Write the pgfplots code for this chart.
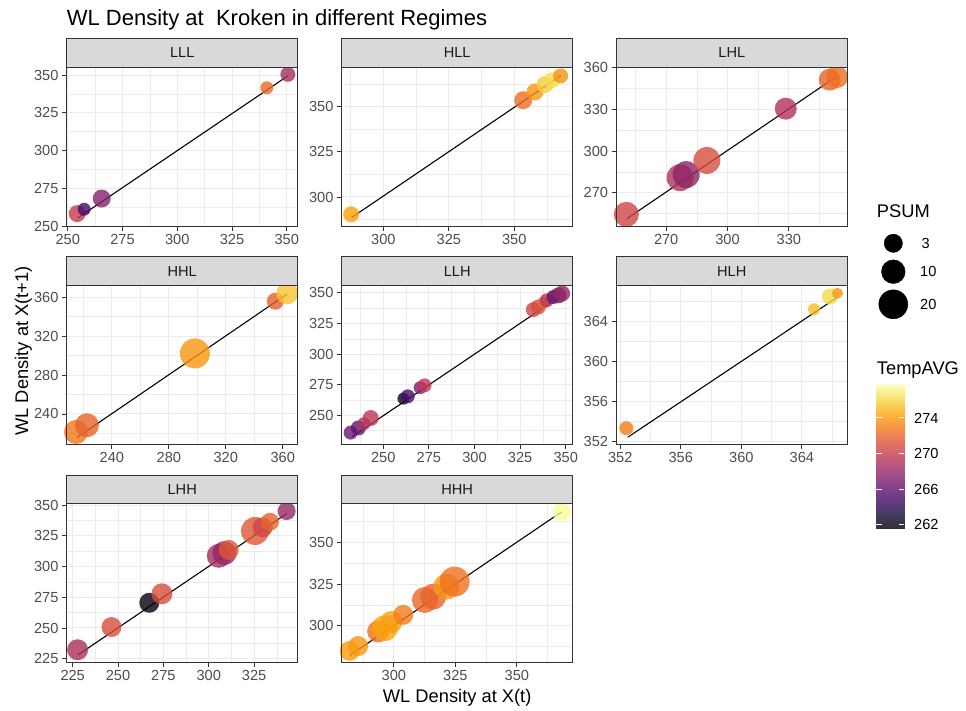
\documentclass[border=0pt]{standalone}
\usepackage{fontspec}
\setmainfont{Liberation Sans}
\usepackage{pgfplots}
\pgfplotsset{compat=1.18}
\usepackage{pgfplotstable}

\definecolor{grey10}{RGB}{26,26,26}
\definecolor{grey20}{RGB}{51,51,51}
\definecolor{grey30}{RGB}{77,77,77}
\definecolor{grey85}{RGB}{217,217,217}
\definecolor{grey92}{RGB}{235,235,235}

% columns: x = density at X(t), y = density at X(t+1), t = TempAVG, d = marker diameter (from PSUM)
\pgfplotstableread{
x y t d
254.3 258.2 270.0 17
257.5 261.1 265.0 13
265.5 268.2 267.5 18
340.9 341.6 272.3 13
350.5 350.5 268.8 15
}\LLL
\pgfplotstableread{
x y t d
287.7 290.4 274.3 16
353.4 353.7 272.5 18
357.9 358.3 274.0 17
361.7 362.4 275.8 17
364.3 364.8 276.3 16
367.7 367.2 273.8 15
}\HLL
\pgfplotstableread{
x y t d
250.5 254.4 270.5 25
276.8 280.8 269.2 27
279.8 283.0 267.8 27
289.9 293.2 271.0 27
328.5 330.5 269.3 22
350.0 351.4 272.0 22
353.6 353.3 272.5 22
}\LHL
\pgfplotstableread{
x y t d
214.8 221.5 272.8 24
222.5 228.4 272.0 24
298.3 302.3 274.0 30
354.8 355.9 271.8 17
363.2 364.1 275.5 22
}\HHL
\pgfplotstableread{
x y t d
232.1 235.9 266.5 14
236.3 239.6 266.0 15
239.4 243.2 269.2 13
243.1 247.8 269.6 16
261.0 263.6 262.5 12
263.4 265.5 265.2 14
270.2 272.6 267.0 13
272.6 274.5 269.8 14
332.2 336.4 270.5 15
335.0 338.6 271.0 15
337.7 341.9 272.2 12
339.6 344.0 269.5 14
343.2 346.7 266.0 14
346.0 348.0 267.0 16
348.0 349.5 268.0 16
}\LLH
\pgfplotstableread{
x y t d
352.4 353.3 273.0 14
364.8 365.2 275.2 12
365.85 366.46 276.2 16
366.35 366.8 274.0 11
}\HLH
\pgfplotstableread{
x y t d
227.7 232.3 269.0 21
246.4 250.8 271.0 20
267.2 270.5 261.8 20
274.2 277.8 271.0 21
305.5 308.7 268.8 24
308.6 310.9 268.0 24
311.0 313.5 271.5 20
325.5 328.9 271.5 28
329.7 331.9 270.5 20
333.7 336.4 272.0 18
342.9 345.1 268.2 18
}\LHH
\pgfplotstableread{
x y t d
282.0 285.0 274.2 20
285.5 287.9 274.0 20
293.6 296.6 272.5 22
296.3 298.6 274.5 26
299.0 302.3 274.2 22
303.8 306.6 273.0 20
312.6 315.5 272.2 26
316.0 317.5 272.0 26
321.4 323.5 274.0 26
324.7 326.5 272.6 30
368.2 368.2 277.6 18
}\HHH

\pgfplotsset{
  colormap={inferno}{rgb255=(0,0,4) rgb255=(22,11,57) rgb255=(66,10,104)
    rgb255=(106,23,110) rgb255=(147,38,103) rgb255=(188,55,84) rgb255=(221,81,58)
    rgb255=(243,120,25) rgb255=(252,165,10) rgb255=(246,215,70) rgb255=(252,255,164)},
  % the same scale seen through 80% opacity on white
  colormap={infernofaded}{rgb255=(51,51,54) rgb255=(69,60,97) rgb255=(104,59,134)
    rgb255=(136,69,139) rgb255=(169,81,133) rgb255=(201,95,118) rgb255=(228,116,97)
    rgb255=(245,147,71) rgb255=(253,183,59) rgb255=(248,223,107) rgb255=(253,255,182)},
  facet/.style={
    scale only axis, width=231pt, height=158.6pt, anchor=north west,
    axis line style={draw=none},
    tick align=outside, xtick pos=left, ytick pos=left,
    major tick length=4.5pt, minor tick length=0pt,
    tick style={grey20, line width=0.9pt},
    grid=both,
    major grid style={grey92, line width=1.0pt},
    minor grid style={grey92, line width=0.5pt},
    ticklabel style={font=\fontsize{14.6}{16}\selectfont, text=grey30},
    xticklabel style={inner sep=0pt, yshift=-3.6pt},
    yticklabel style={inner sep=0pt, xshift=-3.6pt},
    /pgf/number format/assume math mode=true,
    every axis title/.style={at={(0.5,1)}, anchor=south, fill=grey85, draw=grey20,
      line width=0.9pt, minimum width=231pt, minimum height=28.3pt, inner sep=0pt,
      text=grey10, font=\fontsize{14.6}{16}\selectfont},
    point meta min=261.6, point meta max=277.7,
    colormap name=inferno,
    clip=true,
  },
  pts/.style={scatter, only marks, mark=*, point meta=\thisrow{t},
    scatter/use mapped color={draw opacity=0, fill=mapped color, fill opacity=0.8},
    visualization depends on={0.5*\thisrow{d} \as \rad},
    scatter/@pre marker code/.append style={/tikz/mark size=\rad}},
  fit/.style={black, line width=1.1pt, no marks},
}

\begin{document}
\begin{tikzpicture}
\fill[white] (0pt,0pt) rectangle (966pt,-710pt);
\path[use as bounding box] (0pt,0pt) rectangle (966pt,-710pt);

% ---- row 1 ----
\begin{axis}[facet, name=p1, at={(66.7pt,-67.4pt)}, title={LLL},
  xmin=249.5, xmax=355, ymin=250, ymax=355.1,
  xtick={250,275,...,350}, ytick={250,275,...,350},
  minor xtick={262.5,287.5,312.5,337.5}, minor ytick={262.5,287.5,312.5,337.5}]
\addplot[fit] coordinates {(254.5,255.3) (350.5,349.5)};
\addplot[pts] table {\LLL};
\end{axis}

\begin{axis}[facet, name=p2, at={(341.7pt,-67.4pt)}, title={HLL},
  xmin=284.1, xmax=372.3, ymin=283.9, ymax=371.9,
  xtick={300,325,350}, ytick={300,325,350},
  minor xtick={287.5,312.5,337.5,362.5}, minor ytick={287.5,312.5,337.5,362.5}]
\addplot[fit] coordinates {(287.9,288.6) (367.7,367.2)};
\addplot[pts] table {\HLL};
\end{axis}

\begin{axis}[facet, name=p3, at={(616.3pt,-67.4pt)}, title={LHL},
  xmin=245.6, xmax=358.6, ymin=246, ymax=360.2,
  xtick={270,300,330}, ytick={270,300,330,360},
  minor xtick={255,285,315,345}, minor ytick={255,285,315,345}]
\addplot[fit] coordinates {(250.8,251.3) (353.6,353.9)};
\addplot[pts] table {\LHL};
\end{axis}

% ---- row 2 ----
\begin{axis}[facet, name=p4, at={(66.7pt,-285.6pt)}, title={HHL},
  xmin=208.3, xmax=370.5, ymin=208.9, ymax=372,
  xtick={240,280,320,360}, ytick={240,280,320,360},
  minor xtick={220,260,300,340}, minor ytick={220,260,300,340}]
\addplot[fit] coordinates {(215.5,215.8) (363.2,363.5)};
\addplot[pts] table {\HHL};
\end{axis}

\begin{axis}[facet, name=p5, at={(341.7pt,-285.6pt)}, title={LLH},
  xmin=227.2, xmax=353.8, ymin=226.4, ymax=356,
  xtick={250,275,...,350}, ytick={250,275,...,350},
  minor xtick={237.5,262.5,287.5,312.5,337.5}, minor ytick={237.5,262.5,287.5,312.5,337.5}]
\addplot[fit] coordinates {(232.7,232.3) (348.0,348.3)};
\addplot[pts] table {\LLH};
\end{axis}

\begin{axis}[facet, name=p6, at={(616.3pt,-285.6pt)}, title={HLH},
  xmin=351.74, xmax=367, ymin=351.7, ymax=367.56,
  xtick={352,356,360,364}, ytick={352,356,360,364},
  minor xtick={354,358,362,366}, minor ytick={354,358,362,366}]
\addplot[fit] coordinates {(352.5,352.4) (366.35,366.4)};
\addplot[pts] table {\HLH};
\end{axis}

% ---- row 3 ----
\begin{axis}[facet, name=p7, at={(66.7pt,-503.8pt)}, title={LHH},
  xmin=221.7, xmax=349, ymin=222, ymax=351,
  xtick={225,250,...,325}, ytick={225,250,...,350},
  minor xtick={237.5,262.5,287.5,312.5,337.5}, minor ytick={237.5,262.5,287.5,312.5,337.5}]
\addplot[fit] coordinates {(228,228.2) (343.1,343.2)};
\addplot[pts] table {\LHH};
\end{axis}

\begin{axis}[facet, name=p8, at={(341.7pt,-503.8pt)}, title={HHH},
  xmin=278.8, xmax=372.7, ymin=278.1, ymax=373.1,
  xtick={300,325,350}, ytick={300,325,350},
  minor xtick={287.5,312.5,337.5,362.5}, minor ytick={287.5,312.5,337.5,362.5}]
\addplot[fit] coordinates {(282.0,282.2) (368.2,368.3)};
\addplot[pts] table {\HHH};
\end{axis}

% panel borders on top of the points
\foreach \p in {p1,p2,p3,p4,p5,p6,p7,p8}
  \draw[grey20, line width=0.9pt] (\p.south west) rectangle (\p.north east);

% titles
\node[anchor=base west, inner sep=0pt, font=\fontsize{22}{26}\selectfont]
  at (66.7pt,-25pt) {WL Density at~ Kroken in different Regimes};
\node[anchor=base, inner sep=0pt, font=\fontsize{18.3}{22}\selectfont]
  at (457.2pt,-702pt) {WL Density at X(t)};
\node[anchor=base, rotate=90, inner sep=0pt, font=\fontsize{18.3}{22}\selectfont]
  at (28pt,-350.9pt) {WL Density at X(t+1)};

% size legend
\node[anchor=base west, inner sep=0pt, font=\fontsize{18.3}{22}\selectfont]
  at (876.7pt,-217.7pt) {PSUM};
\begin{axis}[hide axis, scale only axis, width=116pt, height=140pt,
  xmin=850, xmax=966, ymin=-330, ymax=-190, at={(850pt,-330pt)}, anchor=south west,
  clip=false]
\addplot[scatter, only marks, mark=*, point meta=\thisrow{d},
  scatter/use mapped color={draw=black, fill=black},
  visualization depends on={0.5*\thisrow{d} \as \rad},
  scatter/@pre marker code/.append style={/tikz/mark size=\rad}] table {
x y d
893.3 -243.3 18.3
893.3 -271.7 23.7
893.3 -304.3 29.0
};
\node[anchor=west, inner sep=0pt, font=\fontsize{14.6}{16}\selectfont] at (axis cs:921.5,-243.3) {3};
\node[anchor=west, inner sep=0pt, font=\fontsize{14.6}{16}\selectfont] at (axis cs:920,-271.7) {10};
\node[anchor=west, inner sep=0pt, font=\fontsize{14.6}{16}\selectfont] at (axis cs:920,-304.3) {20};
\end{axis}

% colour legend
\node[anchor=base west, inner sep=0pt, font=\fontsize{18.3}{22}\selectfont]
  at (876.7pt,-374.5pt) {TempAVG};
\begin{axis}[scale only axis, width=28.3pt, height=143.3pt,
  at={(876pt,-528.3pt)}, anchor=south west,
  xmin=0, xmax=1, ymin=261.6, ymax=277.7,
  axis line style={draw=none}, xtick=\empty,
  ytick={262,266,270,274}, ytick pos=both, yticklabel pos=right,
  tick align=inside, major tick length=5.5pt,
  tick style={white, line width=0.9pt}, axis on top,
  yticklabel style={font=\fontsize{14.6}{16}\selectfont, text=black, inner sep=0pt, anchor=west, xshift=9.7pt},
  /pgf/number format/assume math mode=true,
  colormap name=infernofaded, point meta min=261.6, point meta max=277.7]
\addplot[surf, shader=interp, mesh/rows=2, point meta=y] coordinates {(0,261.6) (1,261.6) (0,277.7) (1,277.7)};
\end{axis}
\end{tikzpicture}
\end{document}
